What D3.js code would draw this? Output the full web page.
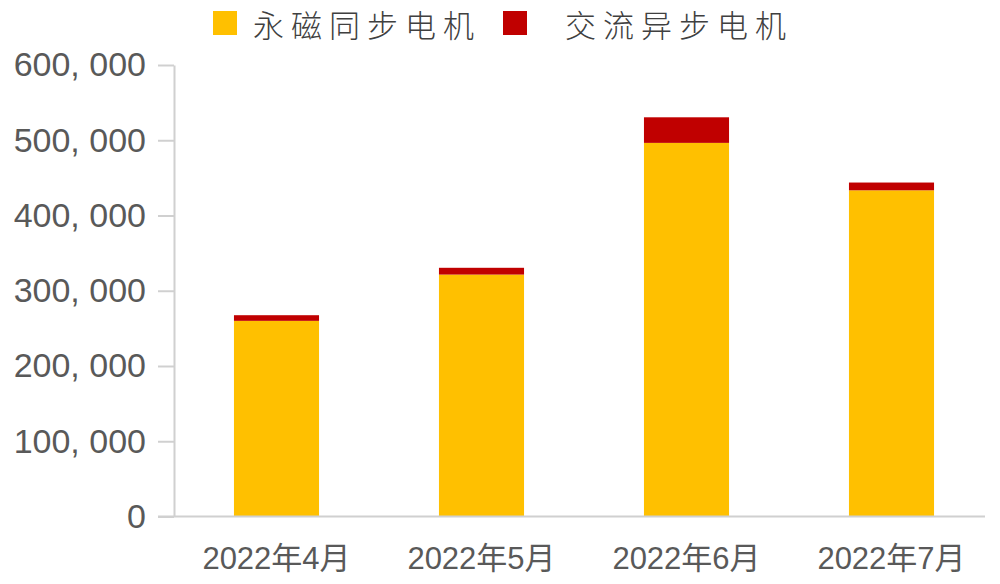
<!DOCTYPE html>
<html><head><meta charset="utf-8">
<script src="https://cdn.jsdelivr.net/npm/d3@7"></script>
<style>body{margin:0;background:#fff;} svg{display:block;}</style>
</head><body>
<svg id="chart" width="1000" height="584"></svg>
<script>
const categories = ["2022年4月", "2022年5月", "2022年6月", "2022年7月"];
const seriesNames = ["永磁同步电机", "交流异步电机"];
const pmsm = [260000, 321500, 496500, 433500];
const acim = [7500, 9000, 34000, 10300];
const yTicks = [0, 100000, 200000, 300000, 400000, 500000, 600000];
const colors = ["#FFC000", "#C00000"];

(function () {
const svg = d3.select("#chart");
const mLeft = 174, mRight = 994, mTop = 65, mBottom = 516.5;

const x = d3.scaleBand().domain(categories).range([mLeft, mRight])
  .paddingInner(0.585).paddingOuter(0.2925);
const y = d3.scaleLinear().domain([0, 600000]).range([mBottom, mTop]);

const rows = categories.map((c, i) => ({cat: c, a: pmsm[i], b: acim[i]}));
const stack = d3.stack().keys(["a", "b"])(rows);

svg.selectAll("g.series").data(stack).join("g")
  .attr("class", "series")
  .attr("fill", (d, i) => colors[i])
  .selectAll("rect").data(d => d).join("rect")
  .attr("x", d => x(d.data.cat))
  .attr("width", x.bandwidth())
  .attr("y", d => y(d[1]))
  .attr("height", d => y(d[0]) - y(d[1]));

const fmt = v => v === 0 ? "0" : d3.format(",")(v).replace(",", ", ");

// y axis
const ya = svg.append("g").attr("transform", `translate(${mLeft},0)`)
  .call(d3.axisLeft(y).tickValues(yTicks).tickFormat(fmt).tickSize(16).tickPadding(12).tickSizeOuter(0));
ya.select(".domain").attr("stroke", "#d0d0d0").attr("stroke-width", 2);
ya.selectAll(".tick line").attr("stroke", "#d0d0d0").attr("stroke-width", 2);
ya.selectAll(".tick text").attr("fill", "#595959")
  .style("font-family", "'Liberation Sans', Arial, sans-serif").style("font-size", "34px");

// x axis
const xa = svg.append("g").attr("transform", `translate(0,${mBottom})`)
  .call(d3.axisBottom(x).tickSize(0).tickPadding(30).tickSizeOuter(0));
xa.select(".domain").attr("d", `M${mLeft - 16},0H985`).attr("stroke", "#d0d0d0").attr("stroke-width", 2);
xa.selectAll(".tick text").attr("fill", "#595959")
  .style("font-family", "'Liberation Sans', 'Noto Sans CJK SC', sans-serif").style("font-size", "31px");

// legend
const legendPos = [213, 503];
const lg = svg.append("g");
seriesNames.forEach((n, i) => {
  lg.append("rect").attr("x", legendPos[i]).attr("y", 11).attr("width", 24).attr("height", 24).attr("fill", colors[i]);
  lg.append("text").attr("x", legendPos[i] + (i === 0 ? 40 : 62)).attr("y", 37)
    .attr("fill", "#404040")
    .style("font-family", "'Noto Sans CJK SC', sans-serif").style("font-size", "31px")
    .style("font-weight", "300").style("letter-spacing", "7px")
    .text(n);
});
})();
</script>
</body></html>
